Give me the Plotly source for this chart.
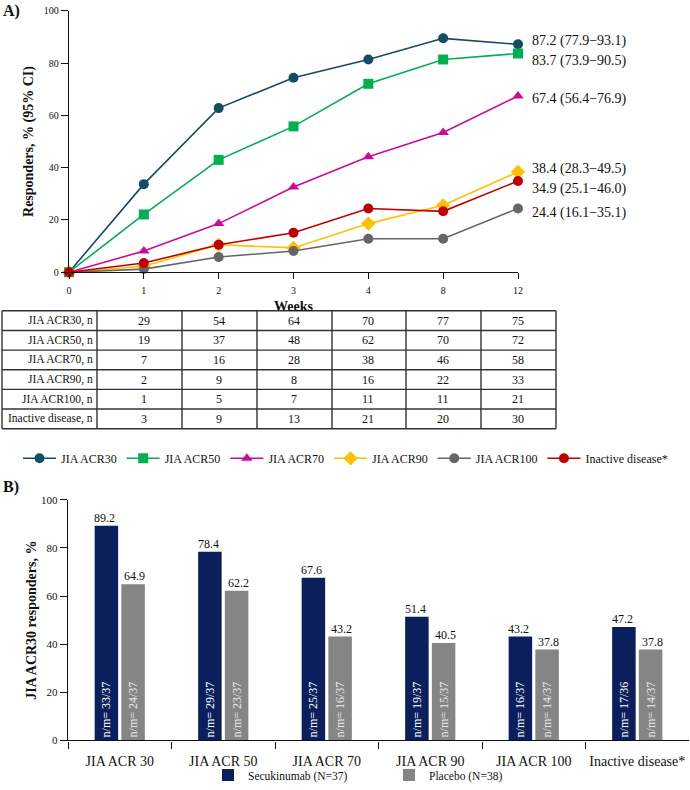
import plotly.graph_objects as go

# ---------------- data ----------------
weeks = ["0", "1", "2", "3", "4", "8", "12"]
series_names = ["JIA ACR30", "JIA ACR50", "JIA ACR70", "JIA ACR90", "JIA ACR100", "Inactive disease*"]
acr30 = [0, 33.7, 62.8, 74.4, 81.4, 89.5, 87.2]
acr50 = [0, 22.1, 43.0, 55.8, 72.1, 81.4, 83.7]
acr70 = [0, 8.1, 18.6, 32.6, 44.2, 53.5, 67.4]
acr90 = [0, 2.3, 10.5, 9.3, 18.6, 25.6, 38.4]
acr100 = [0, 1.2, 5.8, 8.1, 12.8, 12.8, 24.4]
inactive = [0, 3.5, 10.5, 15.1, 24.4, 23.3, 34.9]
ci_low = [77.9, 73.9, 56.4, 28.3, 16.1, 25.1]
ci_high = [93.1, 90.5, 76.9, 49.5, 35.1, 46.0]

table_labels = ["JIA ACR30, n", "JIA ACR50, n", "JIA ACR70, n", "JIA ACR90, n",
                "JIA ACR100, n", "Inactive disease, n"]
table_weeks = ["1", "2", "3", "4", "8", "12"]
n_acr30 = [29, 54, 64, 70, 77, 75]
n_acr50 = [19, 37, 48, 62, 70, 72]
n_acr70 = [7, 16, 28, 38, 46, 58]
n_acr90 = [2, 9, 8, 16, 22, 33]
n_acr100 = [1, 5, 7, 11, 11, 21]
n_inactive = [3, 9, 13, 21, 20, 30]

endpoints = ["JIA ACR 30", "JIA ACR 50", "JIA ACR 70", "JIA ACR 90", "JIA ACR 100", "Inactive disease*"]
secukinumab = [89.2, 78.4, 67.6, 51.4, 43.2, 47.2]
placebo = [64.9, 62.2, 43.2, 40.5, 37.8, 37.8]
secukinumab_nm = ["33/37", "29/37", "25/37", "19/37", "16/37", "17/36"]
placebo_nm = ["24/37", "23/37", "16/37", "15/37", "14/37", "14/37"]

# ---------------- styles ----------------
W, H = 690, 790
SERIF = "Liberation Serif, Times New Roman, serif"
colors = ["#124d63", "#00b050", "#cc0a9a", "#ffc000", "#666666", "#c00000"]
symbols = ["circle", "square", "triangle-up", "diamond", "circle", "circle"]
label_yshift = [3, -8, -3, 3, -5, -8]


def px_x(p):
    return p / W


def px_y(p):
    return 1 - p / H


def week_pos(w):
    # position of a week on the categorical axis
    return weeks.index(w)


series = [acr30, acr50, acr70, acr90, acr100, inactive]
counts = [n_acr30, n_acr50, n_acr70, n_acr90, n_acr100, n_inactive]

fig = go.Figure()

for name, vals, col, sym in zip(series_names, series, colors, symbols):
    fig.add_trace(go.Scatter(
        x=weeks, y=vals, name=name, mode="lines+markers",
        line=dict(color=col, width=1.6),
        marker=dict(color=col, symbol=sym, size=10 if sym != "diamond" else 11,
                    line=dict(width=0)),
        cliponaxis=False, xaxis="x", yaxis="y", legend="legend",
    ))

fig.add_trace(go.Bar(
    x=endpoints, y=secukinumab, name="Secukinumab (N=37)",
    marker=dict(color="#0a1f5c", line=dict(width=0)),
    text=["n/m= " + s for s in secukinumab_nm], textposition="inside",
    insidetextanchor="start", textangle=-90,
    insidetextfont=dict(family=SERIF, size=12, color="#ffffff"),
    xaxis="x2", yaxis="y2", legend="legend2",
))
fig.add_trace(go.Bar(
    x=endpoints, y=placebo, name="Placebo (N=38)",
    marker=dict(color="#858585", line=dict(width=0)),
    text=["n/m= " + s for s in placebo_nm], textposition="inside",
    insidetextanchor="start", textangle=-90,
    insidetextfont=dict(family=SERIF, size=12, color="#e8e8e8"),
    xaxis="x2", yaxis="y2", legend="legend2",
))

annotations = []
# end-of-line labels
for i, vals in enumerate(series):
    annotations.append(dict(
        x=week_pos(weeks[-1]), y=vals[-1], xref="x", yref="y",
        text=f"{vals[-1]:.1f} ({ci_low[i]:.1f}\u2212{ci_high[i]:.1f})",
        showarrow=False, xanchor="left", yanchor="middle", xshift=12,
        yshift=label_yshift[i], font=dict(family=SERIF, size=14, color="#111")))

# table
tbl_top, row_h = 314, 19.85
col_edges = [2, 97, 182, 257, 332, 406, 481, 556]
shapes = []
for k in range(len(table_labels) + 1):
    yy = px_y(tbl_top + k * row_h)
    shapes.append(dict(type="line", xref="paper", yref="paper",
                       x0=px_x(col_edges[0]), x1=px_x(col_edges[-1]), y0=yy, y1=yy,
                       line=dict(color="#333", width=1.4)))
for e in col_edges:
    shapes.append(dict(type="line", xref="paper", yref="paper",
                       x0=px_x(e), x1=px_x(e), y0=px_y(tbl_top),
                       y1=px_y(tbl_top + len(table_labels) * row_h),
                       line=dict(color="#333", width=1.4)))
for r, (lab, cnt) in enumerate(zip(table_labels, counts)):
    yc = px_y(tbl_top + (r + 0.5) * row_h)
    annotations.append(dict(x=px_x(95), y=yc, xref="paper", yref="paper", text=lab,
                            showarrow=False, xanchor="right", yanchor="middle",
                            font=dict(family=SERIF, size=11.5, color="#111")))
    for wk, c in zip(table_weeks, cnt):
        annotations.append(dict(x=week_pos(wk), y=yc, xref="x", yref="paper", text=str(c),
                                showarrow=False, xanchor="center", yanchor="middle",
                                font=dict(family=SERIF, size=12, color="#111")))

# bar value labels
for i, (s, p) in enumerate(zip(secukinumab, placebo)):
    annotations.append(dict(x=i, y=s, xref="x2", yref="y2", text=f"{s:.1f}",
                            showarrow=False, xanchor="center", yanchor="bottom",
                            xshift=-14.8, yshift=-1,
                            font=dict(family=SERIF, size=12, color="#111")))
    annotations.append(dict(x=i, y=p, xref="x2", yref="y2", text=f"{p:.1f}",
                            showarrow=False, xanchor="center", yanchor="bottom",
                            xshift=14.8, yshift=-1,
                            font=dict(family=SERIF, size=12, color="#111")))

# panel letters
annotations.append(dict(x=px_x(1), y=px_y(11), xref="paper", yref="paper", text="<b>A)</b>",
                        showarrow=False, xanchor="left", yanchor="middle",
                        font=dict(family=SERIF, size=16, color="#111")))
annotations.append(dict(x=px_x(1), y=px_y(492), xref="paper", yref="paper", text="<b>B)</b>",
                        showarrow=False, xanchor="left", yanchor="middle",
                        font=dict(family=SERIF, size=16, color="#111")))

axis_common = dict(showline=True, linecolor="#111", linewidth=1.4, showgrid=False,
                   zeroline=False, ticks="outside", tickcolor="#111", tickwidth=1.4)

fig.update_layout(
    width=W, height=H, margin=dict(l=0, r=0, t=0, b=0),
    template="none", paper_bgcolor="white", plot_bgcolor="white",
    font=dict(family=SERIF, color="#111"),
    showlegend=True,
    barmode="group", bargap=0.484, bargroupgap=0.12,
    xaxis=dict(axis_common, type="category", domain=[px_x(69), px_x(518)],
               range=[0, 6], anchor="y", ticklen=6, tickfont=dict(size=10),
               ticklabelstandoff=3,
               title=dict(text="<b>Weeks</b>", font=dict(size=14), standoff=5)),
    yaxis=dict(axis_common, domain=[px_y(275), px_y(11)], range=[0, 100], anchor="x",
               tickvals=[0, 20, 40, 60, 80, 100], ticklen=7, tickfont=dict(size=10),
               title=dict(text="<b>Responders, % (95% CI)</b>", font=dict(size=14), standoff=6)),
    xaxis2=dict(axis_common, type="category", domain=[px_x(68), px_x(689)], anchor="y2",
                tickson="boundaries", ticklen=7, tickfont=dict(size=14),
                ticklabelstandoff=8),
    yaxis2=dict(axis_common, domain=[px_y(748), px_y(505)], range=[0, 100], anchor="x2",
                tickvals=[0, 20, 40, 60, 80, 100], ticklen=7, tickfont=dict(size=11),
                title=dict(text="<b>JIA ACR30 responders, %</b>", font=dict(size=14), standoff=1)),
    legend=dict(orientation="h", x=px_x(18), y=px_y(463), xanchor="left", yanchor="middle",
                font=dict(family=SERIF, size=12, color="#111"), bgcolor="rgba(0,0,0,0)",
                itemwidth=33, itemclick=False),
    legend2=dict(orientation="h", x=px_x(208), y=px_y(783), xanchor="left", yanchor="middle",
                 font=dict(family=SERIF, size=11.5, color="#111"), bgcolor="rgba(0,0,0,0)",
                 entrywidth=136, entrywidthmode="pixels"),
    shapes=shapes, annotations=annotations,
)

# page body has a default 8px margin; remove it so the figure fills the window exactly
fig.write_html("out.html", config={"displayModeBar": False},
               post_script="document.body.style.margin='0';")
